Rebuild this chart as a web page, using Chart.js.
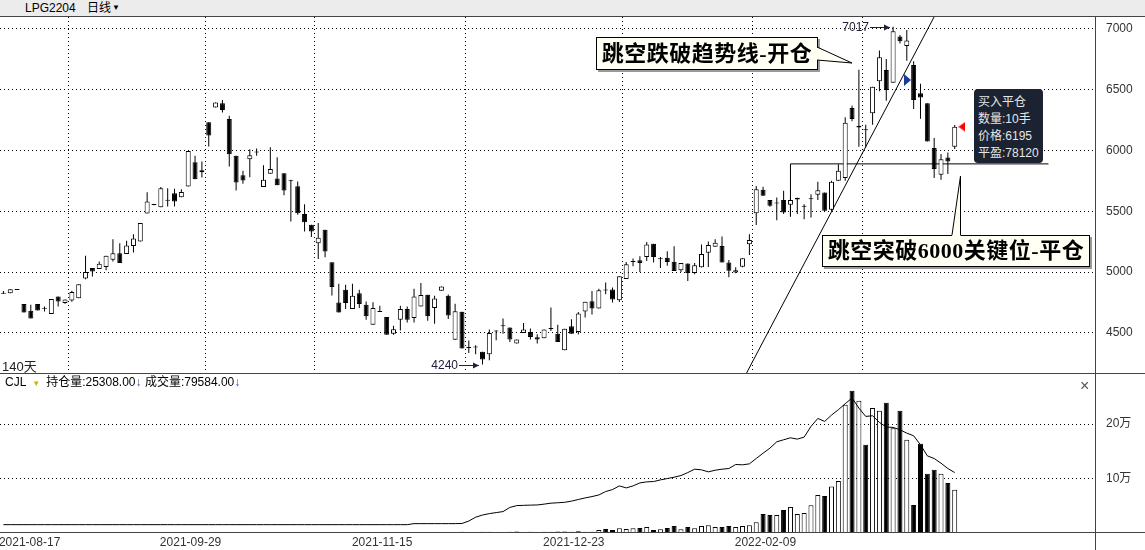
<!DOCTYPE html>
<html>
<head>
<meta charset="utf-8">
<script src="https://cdn.jsdelivr.net/npm/chart.js@4.4.1/dist/chart.umd.min.js"></script>
<style>
  body { margin: 0; width: 1145px; height: 550px; position: relative; overflow: hidden; background: #fff;
         font-family: "Liberation Sans", "Noto Sans CJK SC", sans-serif; font-size: 12px; color: #000; }
  .abs { position: absolute; }
  #hdr { left: 0; top: 0; width: 1145px; height: 16px; background: #ececec; border-bottom: 1px solid #444; }
  #hdr span { position: absolute; top: 1px; line-height: 14px; }
  .rule { background: #444; }
  .callout { background: #fffff4; border: 1px solid #000; box-shadow: 2px 2px 0 #9a9a9a;
             font-family: "Liberation Serif", "Noto Sans CJK SC", serif; font-weight: bold; font-size: 22px;
             letter-spacing: 0.5px; text-align: center; box-sizing: border-box; white-space: nowrap; }
  #tip { left: 974px; top: 89px; width: 69px; height: 74px; background: #1b2231; border-radius: 4px;
         color: #e6e6e6; line-height: 17px; padding: 5px 0 0 4px; box-sizing: border-box; }
  #cjl { left: 5px; top: 375px; line-height: 14px; }
  .dn { color: #2a55b0; }
</style>
</head>
<body>
<div id="hdr" class="abs"><span style="left:25px">LPG2204</span><span style="left:87px">日线</span><span style="left:112px;font-size:8px">▼</span></div>

<canvas id="kc" class="abs" width="1145" height="357" style="left:0;top:17px"></canvas>
<canvas id="vc" class="abs" width="1145" height="176" style="left:0;top:374px"></canvas>

<div class="abs rule" style="left:0;top:373px;width:1145px;height:1px"></div>
<div class="abs rule" style="left:0;top:532px;width:1145px;height:1px"></div>
<div class="abs rule" style="left:1095px;top:17px;width:1px;height:533px"></div>

<div class="abs" style="left:2px;top:356px;font-size:13px;color:#222">140天</div>
<div id="cjl" class="abs">CJL <span style="color:#c8b400;font-size:8px;margin:0 6px 0 3px">▼</span>持仓量:25308.00<span class="dn">↓</span> 成交量:79584.00<span class="dn">↓</span></div>
<div class="abs" style="left:1080px;top:377px;font-size:16px;color:#555">×</div>

<div class="abs callout" style="left:596px;top:37px;width:222px;height:33px;line-height:31px">跳空跌破趋势线-开仓</div>
<div class="abs callout" style="left:822px;top:235px;width:268px;height:32px;line-height:30px">跳空突破6000关键位-平仓</div>
<svg class="abs" width="1145" height="550" style="left:0;top:0">
  <polygon points="816,47 852,63 816,60" fill="#fffff4"/>
  <polyline points="817,47 852,63 817,60" fill="none" stroke="#000" stroke-width="1"/>
  <polygon points="952,236 960.5,176 960.5,236" fill="#fffff4"/>
  <polyline points="952,235 960.5,176 960.5,235" fill="none" stroke="#000" stroke-width="1"/>
</svg>

<div id="tip" class="abs">买入平仓<br>数量:10手<br>价格:6195<br>平盈:78120</div>

<script>
// daily candles, 140 sessions
const open = [
  4822,4827,4852,4737,4682,4737,4698,4655,4800,4745,
  4767,4786,4948,5033,5025,5041,5101,5156,5148,5214,
  5252,5482,5556,5534,5586,5649,5616,5704,5904,5822,
  6233,6354,6389,6260,5956,5797,5929,5984,5699,5808,
  5770,5814,5748,5707,5477,5389,5238,5348,5082,4751,
  4855,4696,4827,4731,4567,4671,4630,4493,4608,4696,
  4622,4718,4814,4704,4847,4805,4444,4674,4375,4379,
  4344,4325,4511,4555,4544,4412,4500,4508,4464,4456,
  4533,4494,4357,4555,4508,4675,4760,4700,4851,4856,
  4768,4944,5084,5097,5125,5234,5105,5119,5086,5015,
  5070,4993,5040,5160,5209,5215,5078,4996,5045,5229,
  5484,5677,5592,5564,5592,5553,5597,5537,5600,5636,
  5655,5512,5751,5773,6349,6190,6170,6306,6569,6662,
  6558,6937,6860,6704,6470,6388,6020,5800,5943,6031
];
const high = [
  4845,4860,4852,4737,4731,4737,4718,4778,4800,4775,
  4847,4901,5134,5033,5088,5134,5271,5238,5257,5312,
  5403,5657,5556,5699,5690,5685,5682,5997,5956,5910,
  6233,6394,6416,6285,5956,5833,6011,6016,5879,6027,
  5945,5814,5759,5745,5559,5389,5403,5348,5082,4904,
  4896,4904,4855,4759,4753,4723,4630,4559,4723,4718,
  4863,4910,4814,4805,4882,4816,4740,4674,4438,4398,
  4344,4527,4522,4618,4544,4445,4582,4536,4489,4527,
  4708,4568,4535,4612,4672,4757,4845,4864,4914,4873,
  4966,5084,5111,5130,5248,5234,5125,5171,5212,5075,
  5070,5075,5226,5251,5270,5292,5100,5040,5114,5311,
  5708,5702,5592,5614,5669,5610,5611,5559,5641,5743,
  5655,5751,5888,6273,6369,6665,6212,6525,6822,6753,
  7017,6950,6992,6734,6549,6388,6102,5971,5984,6209
];
const low = [
  4822,4827,4852,4668,4619,4685,4677,4655,4718,4740,
  4756,4786,4942,4964,5025,5016,5088,5074,5148,5162,
  5252,5482,5550,5534,5540,5540,5616,5704,5764,5778,
  6033,6354,6312,5868,5671,5726,5781,5956,5699,5808,
  5715,5633,5416,5471,5334,5288,5107,5123,4808,4668,
  4696,4696,4704,4608,4567,4671,4485,4485,4520,4586,
  4586,4718,4600,4575,4847,4614,4444,4372,4334,4325,
  4240,4275,4440,4494,4426,4412,4500,4445,4412,4456,
  4516,4426,4357,4494,4486,4626,4651,4700,4818,4749,
  4755,4944,5048,5001,5092,5078,5034,5053,5010,5001,
  4927,4982,5037,5042,5209,5078,4957,4990,5040,5141,
  5388,5627,5537,5427,5477,5455,5477,5435,5449,5592,
  5498,5504,5751,5751,6240,6031,6026,6212,6487,6410,
  6558,6880,6739,6341,6261,6075,5773,5759,5806,6012
];
const close = [
  4822,4860,4852,4668,4619,4685,4698,4778,4759,4775,
  4836,4901,5000,5005,5068,5134,5156,5074,5219,5277,
  5403,5581,5552,5690,5586,5581,5658,5997,5764,5838,
  6123,6394,6334,5970,5737,5753,5962,5984,5759,5847,
  5715,5671,5748,5485,5411,5334,5282,5170,4877,4668,
  4745,4805,4737,4636,4704,4671,4485,4531,4696,4608,
  4800,4811,4636,4783,4882,4644,4679,4372,4375,4379,
  4281,4500,4511,4555,4445,4445,4527,4467,4445,4527,
  4533,4426,4535,4494,4659,4757,4700,4851,4849,4774,
  4966,5064,5084,5075,5226,5125,5105,5084,5010,5075,
  4993,5056,5148,5223,5242,5078,5012,5015,5114,5264,
  5681,5627,5545,5564,5490,5592,5611,5537,5600,5674,
  5504,5743,5833,6229,6259,6204,6166,6525,6767,6498,
  6981,6898,6904,6415,6435,6075,5847,5929,5910,6195
];
// 成交量 bars and 持仓量 line
const volume = [
  800,600,700,900,1100,700,600,900,1000,800,
  900,1200,1500,800,700,1100,1300,1000,900,1200,
  1400,1800,900,1100,1000,1200,900,1600,1700,1300,
  1500,1100,1000,1900,1800,1200,1300,900,1100,1000,
  1200,1300,1500,1600,1400,1200,1300,1100,1900,1700,
  1300,1200,1100,1300,1200,800,1500,1100,1300,1200,
  1600,1400,1800,1500,1300,1700,1600,2200,1900,1700,
  2300,2500,1800,1600,2200,2600,2000,2100,1900,2400,
  2200,2600,2900,2400,3100,2450,2450,5500,7400,5500,
  8600,7400,8600,9200,11000,5500,6700,9200,12900,6700,
  11000,8600,12900,14100,11000,11000,12900,11000,12900,14100,
  19600,35000,33100,33100,42300,47900,35000,36800,50900,69900,
  68100,85300,95700,235600,261300,242900,162000,229400,224500,239300,
  192600,224500,171200,51500,163800,108600,116000,108600,92000,79584
];
const openInt = [
  15300,15300,15300,15300,15300,15300,15300,15300,15300,15300,
  15300,15300,15300,15300,15300,15300,15300,15300,15300,15300,
  15300,15300,15300,15300,15300,15300,15300,15300,15300,15300,
  15300,15300,15300,15300,15300,15300,15300,15300,15300,15300,
  15300,15300,15300,15300,15300,15300,15300,15300,15300,15300,
  15300,15300,15300,15300,15300,15300,15300,15300,15300,15300,
  17200,17200,17200,17200,17200,17200,17200,17500,22000,29000,
  33000,35600,37500,39300,47000,50300,50800,51200,51500,53000,
  54800,55500,56400,58500,61500,64400,66900,69900,76100,79800,
  86500,82800,86500,92000,93900,94500,97500,100000,102500,105500,
  111000,117200,116000,112300,115300,117200,118400,125800,125200,127000,
  136800,146600,155800,167500,171200,174800,172400,176100,195700,210400,
  204900,216600,226400,237400,247900,229400,214100,215300,203100,194500,
  193900,189600,183400,178500,162000,141700,136800,128200,118400,111000
];

const priceTicks = [4500, 5000, 5500, 6000, 6500, 7000];
const volTicks = [100000, 200000];
const volTickLabels = ['10万', '20万'];
const monthStartIdx = [10, 30, 46, 68, 91, 110, 126];
const dateTickIdx = [0, 28, 56, 84, 112];
const dateTickLabels = ['2021-08-17', '2021-09-29', '2021-11-15', '2021-12-23', '2022-02-09'];

// drawn annotations, in (session index, price)
const trendX = [108.4, 136.0];
const trendY = [4150, 7100];
const levelX = [115, 115, 152.7];
const levelY = [5460, 5890, 5890];
const sellOpen = { idx: 133, price: 6580 };
const buyClose = { idx: 139, price: 6195 };

const SLOTS = 160;
const PRICE_MIN = 4162, PRICE_MAX = 7098;
const VOL_MAX = 292000;
const FONT = '"Liberation Sans", "Noto Sans CJK SC", sans-serif';
Chart.defaults.font.family = FONT;
Chart.defaults.font.size = 12;

const idx = open.map((_, i) => i);
const isUp = i => close[i] >= open[i];

function triangle(w, h, color, right) {
  const c = document.createElement('canvas');
  c.width = w; c.height = h;
  const g = c.getContext('2d');
  g.fillStyle = color;
  g.beginPath();
  if (right) { g.moveTo(0, 0); g.lineTo(w, h / 2); g.lineTo(0, h); }
  else { g.moveTo(w, 0); g.lineTo(0, h / 2); g.lineTo(w, h); }
  g.closePath();
  g.fill();
  return c;
}

// max / min price tags with arrows
const extremes = {
  id: 'extremes',
  afterDatasetsDraw(chart) {
    const { ctx, scales: { x, y } } = chart;
    const hi = Math.max(...high), lo = Math.min(...low);
    ctx.save();
    ctx.font = '12px ' + FONT;
    ctx.fillStyle = ctx.strokeStyle = '#20203a';
    ctx.lineWidth = 1;
    [[high.indexOf(hi), hi], [low.indexOf(lo), lo]].forEach(([i, v]) => {
      const px = Math.round(x.getPixelForValue(i)) - 3;
      const py = Math.round(y.getPixelForValue(v)) + 0.5;
      ctx.beginPath(); ctx.moveTo(px - 20, py); ctx.lineTo(px, py); ctx.stroke();
      ctx.beginPath(); ctx.moveTo(px, py); ctx.lineTo(px - 6, py - 3); ctx.lineTo(px - 6, py + 3); ctx.closePath(); ctx.fill();
      ctx.textAlign = 'right'; ctx.textBaseline = 'middle';
      ctx.fillText(String(v), px - 21, py);
    });
    ctx.restore();
  }
};

const xBase = { type: 'linear', min: -0.5, max: SLOTS - 0.5, offset: false };
const noPad = s => { s.paddingLeft = 0; s.paddingRight = 0; s.paddingTop = 0; s.paddingBottom = 0; };
// end ticks with no label keep the plot area from shrinking for label room
const withEnds = (s, list, lo, hi) => { s.ticks = [lo].concat(list, [hi]).map(v => ({ value: v })); };
const gridColor = ctx => (ctx.tick && ctx.tick.label == null) ? 'rgba(0,0,0,0)' : '#000';

new Chart(document.getElementById('kc'), {
  type: 'bar',
  data: {
    datasets: [
      {
        data: idx.map(i => ({ x: i, y: [open[i], close[i]] })),
        backgroundColor: idx.map(i => isUp(i) ? '#fff' : '#000'),
        borderColor: '#000', borderWidth: 1, borderSkipped: false,
        barThickness: 5, minBarLength: 1, grouped: false, inflateAmount: 0, order: 1
      },
      {
        data: idx.map(i => ({ x: i, y: [low[i], high[i]] })),
        backgroundColor: '#000', barThickness: 1, grouped: false, inflateAmount: 0, order: 4
      },
      {
        type: 'line', data: trendX.map((v, k) => ({ x: v, y: trendY[k] })),
        borderColor: '#000', borderWidth: 1, pointRadius: 0, pointHoverRadius: 0, order: 3
      },
      {
        type: 'line', data: levelX.map((v, k) => ({ x: v, y: levelY[k] })),
        borderColor: '#000', borderWidth: 1, pointRadius: 0, pointHoverRadius: 0, order: 3
      },
      {
        type: 'scatter', data: [{ x: sellOpen.idx - 0.9, y: sellOpen.price }],
        pointStyle: triangle(7, 12, '#1a3a9c', true), order: 0
      },
      {
        type: 'scatter', data: [{ x: buyClose.idx + 1.05, y: buyClose.price }],
        pointStyle: triangle(7, 10, '#ff0000', false), order: 0
      }
    ]
  },
  options: {
    responsive: false, animation: false,
    layout: { padding: 0, autoPadding: false },
    plugins: { legend: { display: false }, tooltip: { enabled: false } },
    scales: {
      x: {
        ...xBase,
        afterBuildTicks: s => { s.ticks = monthStartIdx.map(v => ({ value: v - 0.5 })); },
        ticks: { display: false },
        grid: { color: '#000', offset: false, drawTicks: false, tickLength: 0 },
        border: { display: false, dash: [1, 3] },
        afterFit: s => { s.height = 0; noPad(s); }
      },
      y: {
        position: 'right', min: PRICE_MIN, max: PRICE_MAX,
        afterBuildTicks: s => withEnds(s, priceTicks, PRICE_MIN, PRICE_MAX),
        ticks: { color: '#333', padding: 11, crossAlign: 'near',
                 callback: v => priceTicks.includes(v) ? String(v) : null },
        grid: { color: gridColor, drawTicks: false, tickLength: 0 },
        border: { display: false, dash: [1, 3] },
        afterFit: s => { s.width = 50; noPad(s); }
      }
    }
  },
  plugins: [extremes]
});

new Chart(document.getElementById('vc'), {
  type: 'bar',
  data: {
    datasets: [
      {
        type: 'line', data: idx.map(i => ({ x: i, y: openInt[i] })),
        borderColor: '#000', borderWidth: 1, pointRadius: 0, pointHoverRadius: 0, order: 0
      },
      {
        data: idx.map(i => ({ x: i, y: volume[i] })),
        backgroundColor: idx.map(i => isUp(i) ? '#fff' : '#000'),
        borderColor: '#000', borderWidth: 1, borderSkipped: 'start',
        barThickness: 5, grouped: false, inflateAmount: 0, order: 1
      }
    ]
  },
  options: {
    responsive: false, animation: false,
    layout: { padding: 0, autoPadding: false },
    plugins: { legend: { display: false }, tooltip: { enabled: false } },
    scales: {
      x: {
        ...xBase,
        afterBuildTicks: s => { s.ticks = dateTickIdx.map(v => ({ value: v })).concat([{ value: SLOTS - 0.5 }]); },
        ticks: {
          autoSkip: false, maxRotation: 0, align: 'inner', labelOffset: -4.5, padding: 2, color: '#333',
          callback: v => { const k = dateTickIdx.indexOf(v); return k < 0 ? '' : dateTickLabels[k]; }
        },
        grid: { display: false, drawTicks: false },
        border: { display: false },
        afterFit: s => { s.height = 17; noPad(s); }
      },
      y: {
        position: 'right', min: 0, max: VOL_MAX,
        afterBuildTicks: s => withEnds(s, volTicks, 0, VOL_MAX),
        ticks: { color: '#333', padding: 11, crossAlign: 'near',
                 callback: v => volTicks.includes(v) ? volTickLabels[volTicks.indexOf(v)] : null },
        grid: { color: gridColor, drawTicks: false, tickLength: 0 },
        border: { display: false, dash: [1, 3] },
        afterFit: s => { s.width = 50; noPad(s); }
      }
    }
  }
});
</script>
</body>
</html>
